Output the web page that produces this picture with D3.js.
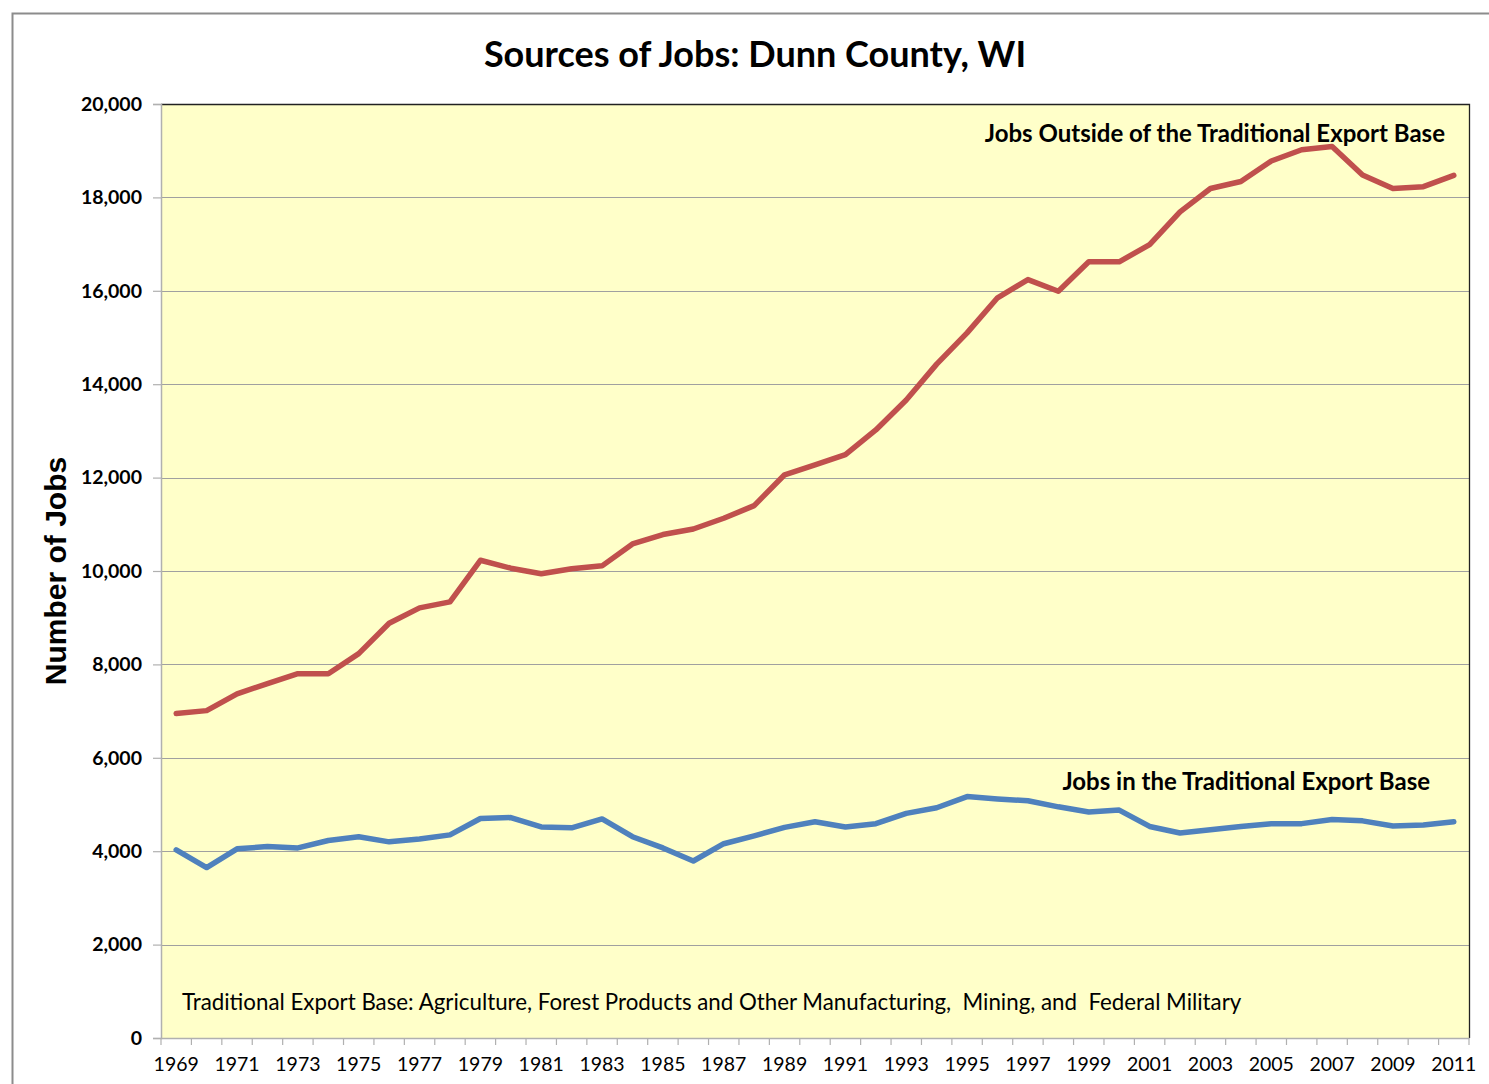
<!DOCTYPE html>
<html>
<head>
<meta charset="utf-8">
<script src="https://cdn.jsdelivr.net/npm/d3@7"></script>
<style>
	body { margin: 0; background: #fff; }
	svg { display: block; }
	text { font-family: Lato, 'Open Sans', sans-serif; fill: #000; }
</style>
</head>
<body>
<svg id="chart" width="1489" height="1084"></svg>
<script>
var years = [];
for (var yr = 1969; yr <= 2011; ++yr) {
	years.push(yr);
}

// jobs outside of the traditional export base
var outsideJobs = [
	6950, 7010, 7370, 7590, 7800, 7800, 8230, 8880, 9210, 9340,
	10230, 10060, 9940, 10050, 10110, 10580, 10780, 10900, 11130, 11400,
	12060, 12270, 12490, 13020, 13660, 14430, 15100, 15850, 16240, 15990,
	16620, 16620, 16990, 17690, 18190, 18340, 18780, 19020, 19090, 18480,
	18190, 18230, 18470
];

// jobs in the traditional export base
var baseJobs = [
	4030, 3650, 4050, 4100, 4070, 4230, 4310, 4200, 4260, 4350,
	4700, 4720, 4520, 4500, 4690, 4310, 4070, 3790, 4160, 4330,
	4510, 4630, 4520, 4590, 4810, 4930, 5170, 5120, 5080, 4950,
	4840, 4880, 4530, 4390, 4460, 4530, 4590, 4590, 4680, 4650,
	4540, 4560, 4630
];

var yTicks = [0, 2000, 4000, 6000, 8000, 10000, 12000, 14000, 16000, 18000, 20000];

var svg = d3.select('#chart');

var plot = {left: 161, top: 104, right: 1469, bottom: 1038};

var x = d3.scaleBand()
	.domain(years)
	.range([plot.left, plot.right]);

var y = d3.scaleLinear()
	.domain([0, 20000])
	.range([plot.bottom, plot.top]);

var line = d3.line()
	.x(function (d, i) { return x(years[i]) + x.bandwidth() / 2; })
	.y(function (d) { return y(d); });

// chart border, runs off the right and bottom edges
svg.append('rect')
	.attr('x', 12.5)
	.attr('y', 13.5)
	.attr('width', 1500)
	.attr('height', 1100)
	.attr('fill', '#fff')
	.attr('stroke', '#8c8c8c')
	.attr('stroke-width', 2);

svg.append('rect')
	.attr('x', plot.left)
	.attr('y', plot.top)
	.attr('width', plot.right - plot.left)
	.attr('height', plot.bottom - plot.top)
	.attr('fill', '#ffffc9');

// gridlines
svg.append('g')
	.selectAll('line')
	.data(yTicks.slice(1, -1))
	.enter()
	.append('line')
	.attr('x1', plot.left)
	.attr('x2', plot.right)
	.attr('y1', function (d) { return Math.round(y(d)) + 0.5; })
	.attr('y2', function (d) { return Math.round(y(d)) + 0.5; })
	.attr('stroke', '#a0a0a0')
	.attr('stroke-width', 1.2);

// plot frame: top and right dark, left and bottom axes grey
svg.append('path')
	.attr('d', 'M' + plot.left + ',' + (plot.top + 0.5) + 'H' + (plot.right + 0.5) + 'V' + plot.bottom)
	.attr('fill', 'none')
	.attr('stroke', '#222')
	.attr('stroke-width', 1.3);

var yAxis = d3.axisLeft(y)
	.tickValues(yTicks)
	.tickSize(8)
	.tickFormat(d3.format(','));

var yAxisG = svg.append('g')
	.attr('transform', 'translate(' + plot.left + ',0)')
	.call(yAxis);
yAxisG.select('.domain').attr('stroke', '#b0b0b0').attr('stroke-width', 1.5);
yAxisG.selectAll('.tick line').attr('stroke', '#b0b0b0').attr('stroke-width', 1.2);
yAxisG.selectAll('.tick text')
	.attr('x', -19)
	.style('font-size', '19.5px')
	.style('font-weight', 'bold')
	.style('font-family', 'Lato, sans-serif');

var xAxis = d3.axisBottom(x)
	.tickValues(years.filter(function (d) { return (d - 1969) % 2 === 0; }))
	.tickSize(0)
	.tickPadding(19);

var xAxisG = svg.append('g')
	.attr('transform', 'translate(0,' + plot.bottom + ')')
	.call(xAxis);
xAxisG.select('.domain').attr('stroke', '#b0b0b0').attr('stroke-width', 1.5);
xAxisG.selectAll('.tick text')
	.style('font-size', '19.5px')
	.style('font-family', 'Lato, sans-serif');

// tick marks sit on the category boundaries
svg.append('g')
	.selectAll('line')
	.data(years.concat([null]))
	.enter()
	.append('line')
	.attr('x1', function (d, i) { return plot.left + i * x.step(); })
	.attr('x2', function (d, i) { return plot.left + i * x.step(); })
	.attr('y1', plot.bottom)
	.attr('y2', plot.bottom + 7)
	.attr('stroke', '#b0b0b0')
	.attr('stroke-width', 1.2);

svg.append('path')
	.datum(outsideJobs)
	.attr('d', line)
	.attr('fill', 'none')
	.attr('stroke', '#c0504d')
	.attr('stroke-width', 5.5)
	.attr('stroke-linejoin', 'round')
	.attr('stroke-linecap', 'round');

svg.append('path')
	.datum(baseJobs)
	.attr('d', line)
	.attr('fill', 'none')
	.attr('stroke', '#4f81bd')
	.attr('stroke-width', 5.5)
	.attr('stroke-linejoin', 'round')
	.attr('stroke-linecap', 'round');

svg.append('text')
	.attr('x', 755)
	.attr('y', 67)
	.attr('text-anchor', 'middle')
	.style('font-size', '36px')
	.style('font-weight', 'bold')
	.text('Sources of Jobs: Dunn County, WI');

svg.append('text')
	.attr('transform', 'translate(66,571) rotate(-90)')
	.attr('text-anchor', 'middle')
	.style('font-family', "'Liberation Sans', Arial, sans-serif")
	.style('font-size', '30px')
	.style('font-weight', 'bold')
	.text('Number of Jobs');

svg.append('text')
	.attr('x', 1445)
	.attr('y', 142)
	.attr('text-anchor', 'end')
	.style('font-size', '24px')
	.style('font-weight', 'bold')
	.text('Jobs Outside of the Traditional  Export Base');

svg.append('text')
	.attr('x', 1430)
	.attr('y', 790)
	.attr('text-anchor', 'end')
	.style('font-size', '24px')
	.style('font-weight', 'bold')
	.text('Jobs in the Traditional  Export Base');

svg.append('text')
	.attr('x', 182)
	.attr('y', 1010)
	.style('font-size', '22.3px')
	.style('white-space', 'pre')
	.text('Traditional Export Base: Agriculture, Forest Products and Other Manufacturing,  Mining, and  Federal Military');
</script>
</body>
</html>
